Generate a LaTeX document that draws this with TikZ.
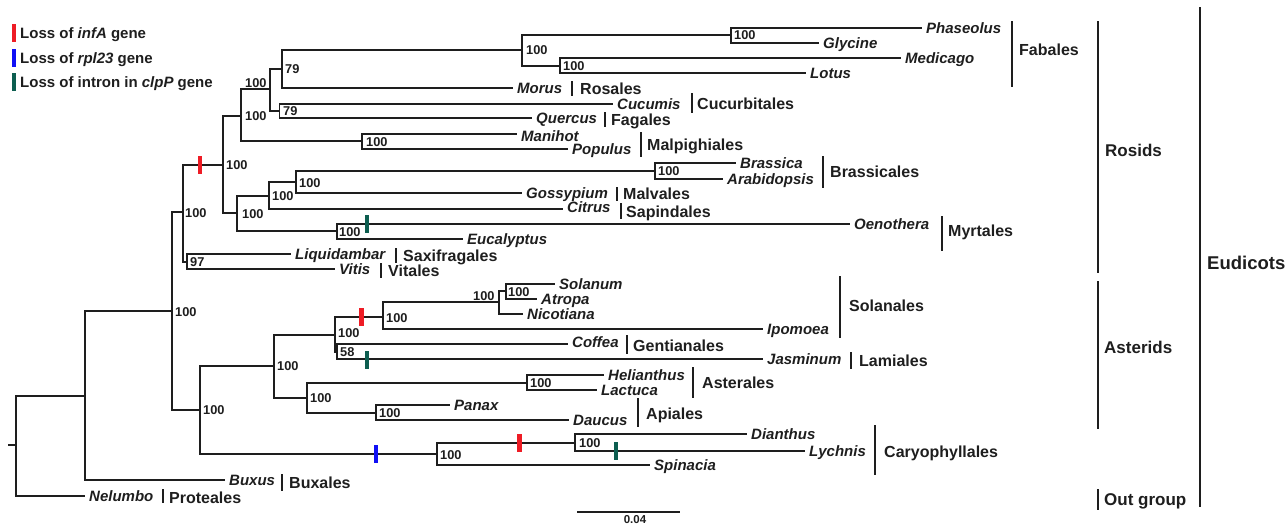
\documentclass[tikz,border=0pt]{standalone}
\usepackage{fontspec}
\setmainfont{Liberation Sans}
\definecolor{lc}{HTML}{1E1E1E}
\definecolor{mred}{HTML}{EE1C25}
\definecolor{mblue}{HTML}{1010F5}
\definecolor{mgreen}{HTML}{0D5E50}
\newcommand\twokids[3]{\draw[br] (#1) |- (#2); \draw[br] (#1) |- (#3);}
\begin{document}
\begin{tikzpicture}[x=1pt,y=-1pt,
  br/.style={line width=1.8pt,draw=lc},
  obar/.style={line width=1.6pt,draw=lc},
  taxon/.style={anchor=base west,inner sep=0pt,xshift=4pt,yshift=-5.3pt,text=lc,font=\fontsize{15}{15}\selectfont\bfseries\itshape},
  ord/.style={anchor=base west,inner sep=0pt,yshift=-5.7pt,text=lc,font=\fontsize{16}{16}\selectfont\bfseries},
  bs/.style={anchor=base west,inner sep=0pt,yshift=-4.5pt,text=lc,font=\fontsize{12.8}{12.8}\selectfont\bfseries},
  grp/.style={anchor=base west,inner sep=0pt,yshift=-6.1pt,text=lc,font=\fontsize{17}{17}\selectfont\bfseries},
  leg/.style={anchor=base west,inner sep=0pt,yshift=-5.4pt,text=lc,font=\fontsize{15}{15}\selectfont\bfseries},
  mk/.style={rectangle,inner sep=0pt,minimum width=4.5pt,minimum height=18pt,draw=none}
]
\useasboundingbox (0,0) rectangle (1288,525);

% ---------- legend ----------
\node[mk,fill=mred] (lgr) at (14,33) {};
\node[leg] (lgrt) at (20,33) {Loss of \textit{infA} gene};
\node[mk,fill=mblue] (lgb) at (14,58) {};
\node[leg] (lgbt) at (20,58) {Loss of \textit{rpl23} gene};
\node[mk,fill=mgreen] (lgg) at (14,82) {};
\node[leg] (lggt) at (20,82) {Loss of intron in \textit{clpP} gene};

% ---------- internal nodes ----------
\coordinate (stub) at (8,445);
\coordinate (root) at (16,445);
\coordinate (A) at (85,396);
\coordinate (B) at (172,311);
\coordinate (R) at (182.7,212);
\coordinate (SV) at (187,262);
\coordinate (C) at (222.7,165);
\coordinate (D) at (240.7,116);
\coordinate (F) at (270,89);
\coordinate (G) at (282,69);
\coordinate (H) at (279.5,111);
\coordinate (J) at (522.3,50);
\coordinate (K) at (731,35);
\coordinate (L) at (560,66);
\coordinate (I) at (362,141);
\coordinate (E) at (237,213);
\coordinate (M) at (269.3,196);
\coordinate (O) at (296,182);
\coordinate (P) at (655,171);
\coordinate (N) at (336.7,231);
\coordinate (Q) at (200,410);
\coordinate (S) at (274,366);
\coordinate (V) at (335,335);
\coordinate (X) at (382.7,317);
\coordinate (Y) at (499,302);
\coordinate (Z) at (505.7,291);
\coordinate (W) at (336.7,352);
\coordinate (AA) at (306.7,398);
\coordinate (AB) at (526.7,383);
\coordinate (AC) at (376,413);
\coordinate (T) at (437,454);
\coordinate (U) at (575,443);

% ---------- tips ----------
\coordinate (tPha) at (922,28);
\coordinate (tGly) at (819,43);
\coordinate (tMed) at (901,58);
\coordinate (tLot) at (806,73);
\coordinate (tMor) at (513,88);
\coordinate (tCuc) at (613,104);
\coordinate (tQue) at (532,118);
\coordinate (tMan) at (517,134);
\coordinate (tPop) at (568,149);
\coordinate (tBra) at (736,163);
\coordinate (tAra) at (723,179);
\coordinate (tGos) at (522,193);
\coordinate (tCit) at (563,209);
\coordinate (tOen) at (850,224);
\coordinate (tEuc) at (463,239);
\coordinate (tLiq) at (291,254);
\coordinate (tVit) at (335,269);
\coordinate (tSol) at (555,284);
\coordinate (tAtr) at (537,299);
\coordinate (tNic) at (523,314);
\coordinate (tIpo) at (763,329);
\coordinate (tCof) at (568,344);
\coordinate (tJas) at (763,359);
\coordinate (tHel) at (604,375);
\coordinate (tLac) at (597,390);
\coordinate (tPan) at (450,405);
\coordinate (tDau) at (569,420);
\coordinate (tDia) at (747,434);
\coordinate (tLyc) at (805,451);
\coordinate (tSpi) at (650,465);
\coordinate (tBux) at (225,480);
\coordinate (tNel) at (85,496);

% ---------- branches ----------
\draw[br] (stub) -- (root);
\twokids{root}{A}{tNel}
\twokids{A}{B}{tBux}
\twokids{B}{R}{Q}
\twokids{R}{C}{SV}
\twokids{SV}{tLiq}{tVit}
\twokids{C}{D}{E}
\twokids{D}{F}{I}
\twokids{F}{G}{H}
\twokids{G}{J}{tMor}
\twokids{J}{K}{L}
\twokids{K}{tPha}{tGly}
\twokids{L}{tMed}{tLot}
\twokids{H}{tCuc}{tQue}
\twokids{I}{tMan}{tPop}
\twokids{E}{M}{N}
\twokids{M}{O}{tCit}
\twokids{O}{P}{tGos}
\twokids{P}{tBra}{tAra}
\twokids{N}{tOen}{tEuc}
\twokids{Q}{S}{T}
\twokids{S}{V}{AA}
\twokids{V}{X}{W}
\twokids{X}{Y}{tIpo}
\twokids{Y}{Z}{tNic}
\twokids{Z}{tSol}{tAtr}
\twokids{W}{tCof}{tJas}
\twokids{AA}{AB}{AC}
\twokids{AB}{tHel}{tLac}
\twokids{AC}{tPan}{tDau}
\twokids{T}{U}{tSpi}
\twokids{U}{tDia}{tLyc}

% ---------- event markers ----------
\node[mk,fill=mred] (e1) at (200,165) {};
\node[mk,fill=mred] (e2) at (361.5,317) {};
\node[mk,fill=mred] (e3) at (519.3,443) {};
\node[mk,fill=mblue] (e4) at (376,454) {};
\node[mk,fill=mgreen] (e5) at (367,224) {};
\node[mk,fill=mgreen] (e6) at (367,360) {};
\node[mk,fill=mgreen] (e7) at (616,451) {};

% ---------- bootstrap values ----------
\node[bs] (bB) at (175,312) {100};
\node[bs] (bR) at (185,213) {100};
\node[bs] (bC) at (226,165) {100};
\node[bs] (bD) at (245,116) {100};
\node[bs] (bF) at (245,83) {100};
\node[bs] (bG) at (285,69) {79};
\node[bs] (bH) at (283,111) {79};
\node[bs] (bI) at (366,142) {100};
\node[bs] (bJ) at (526,50) {100};
\node[bs] (bK) at (734,35) {100};
\node[bs] (bL) at (563,66) {100};
\node[bs] (bE) at (242,214) {100};
\node[bs] (bM) at (272,196) {100};
\node[bs] (bO) at (299,183) {100};
\node[bs] (bP) at (658,171) {100};
\node[bs] (bN) at (339,232) {100};
\node[bs] (bSV) at (190,262) {97};
\node[bs] (bQ) at (203,410) {100};
\node[bs] (bS) at (277,366) {100};
\node[bs] (bV) at (338,333) {100};
\node[bs] (bW) at (340,352) {58};
\node[bs] (bX) at (386,318) {100};
\node[bs] (bY) at (473,296) {100};
\node[bs] (bZ) at (508,292) {100};
\node[bs] (bAA) at (310,398) {100};
\node[bs] (bAB) at (530,383) {100};
\node[bs] (bAC) at (379,413) {100};
\node[bs] (bT) at (440,455) {100};
\node[bs] (bU) at (579,443) {100};

% ---------- taxon names ----------
\node[taxon] (nPha) at (tPha) {Phaseolus};
\node[taxon] (nGly) at (tGly) {Glycine};
\node[taxon] (nMed) at (tMed) {Medicago};
\node[taxon] (nLot) at (tLot) {Lotus};
\node[taxon] (nMor) at (tMor) {Morus};
\node[taxon] (nCuc) at (tCuc) {Cucumis};
\node[taxon] (nQue) at (tQue) {Quercus};
\node[taxon,yshift=-2pt] (nMan) at (tMan) {Manihot};
\node[taxon] (nPop) at (tPop) {Populus};
\node[taxon] (nBra) at (tBra) {Brassica};
\node[taxon] (nAra) at (tAra) {Arabidopsis};
\node[taxon] (nGos) at (tGos) {Gossypium};
\node[taxon,yshift=2pt] (nCit) at (tCit) {Citrus};
\node[taxon] (nOen) at (tOen) {Oenothera};
\node[taxon] (nEuc) at (tEuc) {Eucalyptus};
\node[taxon] (nLiq) at (tLiq) {Liquidambar};
\node[taxon] (nVit) at (tVit) {Vitis};
\node[taxon] (nSol) at (tSol) {Solanum};
\node[taxon] (nAtr) at (tAtr) {Atropa};
\node[taxon] (nNic) at (tNic) {Nicotiana};
\node[taxon] (nIpo) at (tIpo) {Ipomoea};
\node[taxon,yshift=1.5pt] (nCof) at (tCof) {Coffea};
\node[taxon] (nJas) at (tJas) {Jasminum};
\node[taxon] (nHel) at (tHel) {Helianthus};
\node[taxon] (nLac) at (tLac) {Lactuca};
\node[taxon] (nPan) at (tPan) {Panax};
\node[taxon] (nDau) at (tDau) {Daucus};
\node[taxon] (nDia) at (tDia) {Dianthus};
\node[taxon] (nLyc) at (tLyc) {Lychnis};
\node[taxon] (nSpi) at (tSpi) {Spinacia};
\node[taxon] (nBux) at (tBux) {Buxus};
\node[taxon] (nNel) at (tNel) {Nelumbo};

% ---------- order bars and names ----------
\draw[obar] (1011.7,21) -- (1011.7,87);  \node[ord] (oFab) at (1019,50) {Fabales};
\draw[obar] (572,81) -- (572,96);        \node[ord] (oRos) at (580,89) {Rosales};
\draw[obar] (691.7,93) -- (691.7,113);   \node[ord] (oCuc) at (697,104) {Cucurbitales};
\draw[obar] (605,112) -- (605,127);      \node[ord] (oFag) at (611,120) {Fagales};
\draw[obar] (640.7,132) -- (640.7,157);  \node[ord] (oMal) at (647,145) {Malpighiales};
\draw[obar] (822.7,156) -- (822.7,188);  \node[ord] (oBra) at (830,172) {Brassicales};
\draw[obar] (616.7,187) -- (616.7,201);  \node[ord] (oMlv) at (623,194) {Malvales};
\draw[obar] (621,203) -- (621,219);      \node[ord] (oSap) at (626,212) {Sapindales};
\draw[obar] (941.7,216) -- (941.7,251);  \node[ord] (oMyr) at (948,231) {Myrtales};
\draw[obar] (396,248) -- (396,263);      \node[ord] (oSax) at (403,256) {Saxifragales};
\draw[obar] (381,263) -- (381,278);      \node[ord] (oVit) at (388,271) {Vitales};
\draw[obar] (840,276) -- (840,338);      \node[ord] (oSol) at (849,306) {Solanales};
\draw[obar] (626.7,335) -- (626.7,354);  \node[ord] (oGen) at (633,346) {Gentianales};
\draw[obar] (851,352) -- (851,369);      \node[ord] (oLam) at (859,361) {Lamiales};
\draw[obar] (693,367) -- (693,398);      \node[ord] (oAst) at (702,383) {Asterales};
\draw[obar] (637.7,398) -- (637.7,427);  \node[ord] (oApi) at (646,414) {Apiales};
\draw[obar] (875,425) -- (875,475);      \node[ord] (oCar) at (884,452) {Caryophyllales};
\draw[obar] (282,474) -- (282,491);      \node[ord] (oBux) at (289,483) {Buxales};
\draw[obar] (163,489) -- (163,503);      \node[ord] (oPro) at (169,498) {Proteales};

% ---------- major groups ----------
\draw[obar] (1098,21) -- (1098,273);   \node[grp] (gRos) at (1105,150) {Rosids};
\draw[obar] (1098,281) -- (1098,429);  \node[grp] (gAst) at (1104,347) {Asterids};
\draw[obar] (1098,489) -- (1098,510);  \node[grp] (gOut) at (1104,499) {Out group};
\draw[line width=2.6pt,draw=lc] (1200,7) -- (1200,507);
\node[grp,font=\fontsize{18.5}{18.5}\selectfont\bfseries,yshift=-0.6pt] (gEud) at (1207,263) {Eudicots};

% ---------- scale bar ----------
\coordinate (sbL) at (577,512);
\coordinate (sbR) at (680,512);
\draw[line width=1.5pt,draw=lc] (sbL) -- (sbR);
\node[anchor=base,inner sep=0pt,text=lc,font=\fontsize{11.5}{11.5}\selectfont\bfseries] (sbT) at (635,523) {0.04};
\end{tikzpicture}
\end{document}
